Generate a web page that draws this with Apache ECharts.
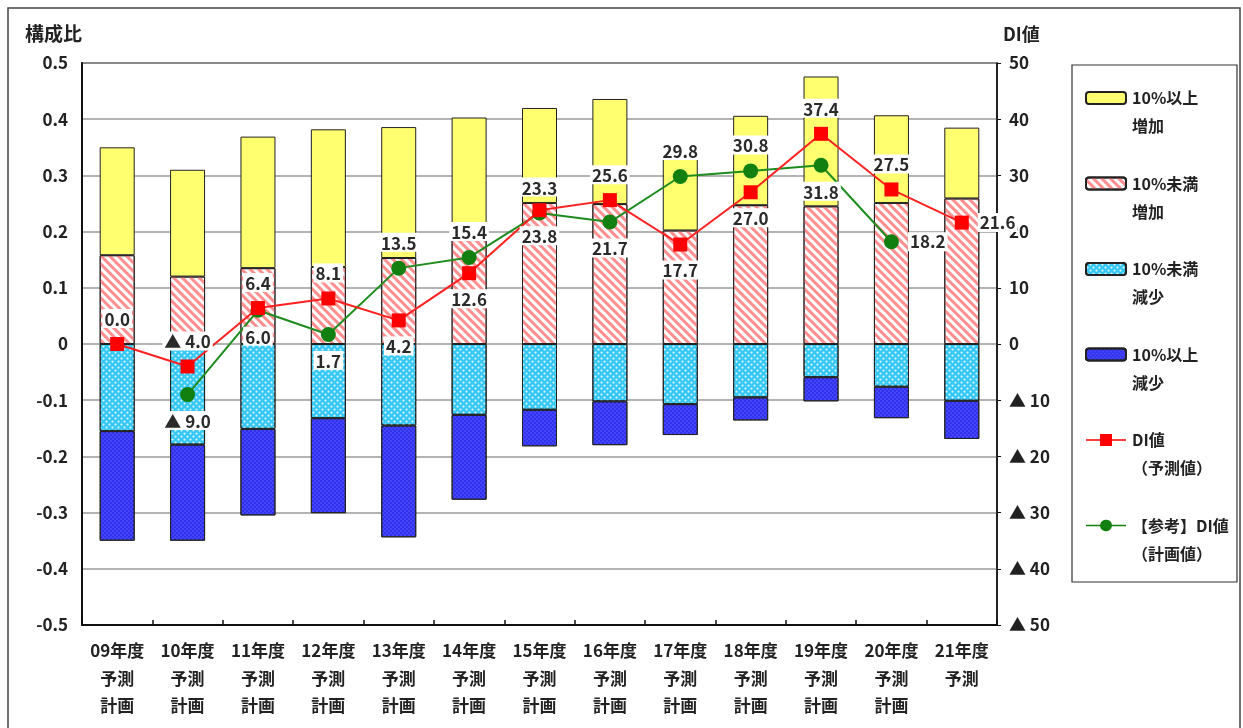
<!DOCTYPE html>
<html>
<head>
<meta charset="utf-8">
<script src="https://cdn.jsdelivr.net/npm/echarts@6.0.0/dist/echarts.min.js"></script>
<style>
html,body{margin:0;padding:0;background:#fff;}
#chart{width:1243px;height:728px;}
</style>
</head>
<body>
<div id="chart"></div>
<script>
// ---- data ----
var categories = ['09年度\n予測\n計画','10年度\n予測\n計画','11年度\n予測\n計画','12年度\n予測\n計画','13年度\n予測\n計画','14年度\n予測\n計画','15年度\n予測\n計画','16年度\n予測\n計画','17年度\n予測\n計画','18年度\n予測\n計画','19年度\n予測\n計画','20年度\n予測\n計画','21年度\n予測'];
var incSmall = [0.158,0.120,0.135,0.137,0.153,0.185,0.251,0.249,0.202,0.247,0.245,0.251,0.259];   // 10%未満増加
var incLarge = [0.192,0.190,0.234,0.245,0.233,0.218,0.169,0.187,0.137,0.159,0.231,0.156,0.126];   // 10%以上増加
var decSmall = [-0.155,-0.179,-0.151,-0.132,-0.145,-0.126,-0.117,-0.102,-0.107,-0.095,-0.059,-0.076,-0.101]; // 10%未満減少
var decLarge = [-0.195,-0.171,-0.154,-0.169,-0.199,-0.151,-0.065,-0.078,-0.055,-0.041,-0.043,-0.056,-0.068]; // 10%以上減少
var diForecast = [0.0,-4.0,6.4,8.1,4.2,12.6,23.8,25.6,17.7,27.0,37.4,27.5,21.6];
var diPlan = [null,-9.0,6.0,1.7,13.5,15.4,23.3,21.7,29.8,30.8,31.8,18.2,null];
var leftTicks = {min:-0.5, max:0.5, interval:0.1};
var rightTicks = {min:-50, max:50, interval:10};

// ---- label placement (style) ----
var redPos = ['top','top','top','top','bottom','bottom','bottom','top','bottom','bottom','top','top','right'];
var greenPos = ['top','bottom','bottom','bottom','top','top','top','bottom','top','top','bottom','right','top'];

var FONT = '"Noto Sans CJK JP", "Noto Sans", sans-serif';
var TXT = '#222';

function diFmt(v){ return v < 0 ? '▲ ' + (-v).toFixed(1) : v.toFixed(1); }

var labelBase = {
  show: true, fontFamily: FONT, fontSize: 17, fontWeight: 'bold', color: '#2a2a2a',
  backgroundColor: '#fff', padding: [2,2,0,2], distance: 9,
  formatter: function(p){ return diFmt(p.value); }
};

function lineData(arr, pos){
  return arr.map(function(v,i){
    if (v === null) return null;
    return {value: v, label: {position: pos[i]}};
  });
}

var ICON_LINE_SQ = 'path://M0,5.2H14V0H26V5.2H40V6.8H26V12H14V6.8H0Z';
var ICON_LINE_CI = 'path://M0,5.2H14.08A6,6 0 0 1 25.92,5.2H40V6.8H25.92A6,6 0 0 1 14.08,6.8H0Z';

var chart = echarts.init(document.getElementById('chart'));
var barBorder = {borderColor:'#222', borderWidth:1};

var option = {
  animation: false,
  backgroundColor: '#fff',
  textStyle: {fontFamily: FONT},
  grid: {left:82, right:246, top:63, bottom:103, show:true, borderColor:'#222', borderWidth:1.5},
  legend: {
    orient:'vertical', left:1085, top:56, padding:0,
    itemWidth:40, itemHeight:12, itemGap:1.5,
    formatter: function(name){ return ' \n' + name; },
    textStyle:{fontFamily:FONT, fontSize:16, fontWeight:'bold', color:TXT, lineHeight:28, padding:[0,0,0,1]},
    data:[
      {name:'10%以上\n増加', icon:'roundRect'},
      {name:'10%未満\n増加', icon:'roundRect'},
      {name:'10%未満\n減少', icon:'roundRect'},
      {name:'10%以上\n減少', icon:'roundRect'},
      {name:'DI値\n（予測値）', icon: ICON_LINE_SQ},
      {name:'【参考】DI値\n（計画値）', icon: ICON_LINE_CI}
    ]
  },
  graphic: [
    {type:'rect', shape:{x:8, y:8, width:1232, height:740}, style:{fill:'none', stroke:'#444', lineWidth:1.5}, silent:true},
    {type:'rect', shape:{x:1072, y:65, width:165, height:517}, style:{fill:'none', stroke:'#333', lineWidth:1.2}, silent:true}
  ],
  xAxis: {
    type:'category', data: categories,
    axisLine:{onZero:false, lineStyle:{color:'#111', width:2}},
    axisTick:{show:true, inside:true, length:5, lineStyle:{color:'#111', width:1.5}},
    axisLabel:{interval:0, fontFamily:FONT, fontSize:17, fontWeight:'bold', color:TXT, lineHeight:27.5, margin:12}
  },
  yAxis: [
    {
      type:'value', min:leftTicks.min, max:leftTicks.max, interval:leftTicks.interval,
      name:'構成比', nameLocation:'end', nameGap:20,
      nameTextStyle:{fontFamily:FONT, fontSize:19, fontWeight:'bold', color:TXT, align:'right', padding:[0,0,0,0]},
      axisLine:{show:true, lineStyle:{color:'#111', width:2}},
      axisTick:{show:false},
      axisLabel:{fontFamily:FONT, fontSize:17, fontWeight:'bold', color:TXT, margin:14,
        formatter:function(v){ var r = Math.round(v*10)/10; return r === 0 ? '0' : r.toFixed(1); }},
      splitLine:{show:true, lineStyle:{color:'#9a9a9a', width:1.5}}
    },
    {
      type:'value', min:rightTicks.min, max:rightTicks.max, interval:rightTicks.interval,
      name:'DI値', nameLocation:'end', nameGap:20,
      nameTextStyle:{fontFamily:FONT, fontSize:18, fontWeight:'bold', color:TXT, align:'left', padding:[0,0,0,6]},
      axisLine:{show:true, lineStyle:{color:'#111', width:1.5}},
      axisTick:{show:true, length:4, lineStyle:{color:'#111'}},
      axisLabel:{fontFamily:FONT, fontSize:17, fontWeight:'bold', color:TXT, margin:12,
        formatter:function(v){ return v < 0 ? '▲ ' + (-v) : String(v); }},
      splitLine:{show:false}
    }
  ],
  series: [
    {
      name:'10%未満\n増加', type:'bar', stack:'ratio', barWidth:35, data: incSmall,
      itemStyle: Object.assign({color:'#ffffff',
        decal:{symbol:'rect', color:'#ff8f8f', dashArrayX:[1,0], dashArrayY:[2.5,2.5], rotation:Math.PI/4}}, barBorder)
    },
    {
      name:'10%以上\n増加', type:'bar', stack:'ratio', barWidth:35, data: incLarge,
      itemStyle: Object.assign({color:'#ffff70'}, barBorder)
    },
    {
      name:'10%未満\n減少', type:'bar', stack:'ratio', barWidth:35, data: decSmall,
      itemStyle: Object.assign({color:'#35c8f5',
        decal:{symbol:'circle', symbolSize:0.75, color:'rgba(255,255,255,0.8)', dashArrayX:[[3,3],[0,3,3,0]], dashArrayY:[3,0]}}, barBorder)
    },
    {
      name:'10%以上\n減少', type:'bar', stack:'ratio', barWidth:35, data: decLarge,
      itemStyle: Object.assign({color:'#3030f0',
        decal:{symbol:'circle', symbolSize:0.7, color:'rgba(140,140,255,0.7)', dashArrayX:[[2,2],[0,2,2,0]], dashArrayY:[2,0]}}, barBorder)
    },
    {
      name:'DI値\n（予測値）', type:'line', yAxisIndex:1, data: lineData(diForecast, redPos),
      symbol:'rect', symbolSize:14, z:5,
      lineStyle:{color:'#ff2020', width:2}, itemStyle:{color:'#ff0000'},
      label: labelBase
    },
    {
      name:'【参考】DI値\n（計画値）', type:'line', yAxisIndex:1, data: lineData(diPlan, greenPos),
      symbol:'circle', symbolSize:15, z:4,
      lineStyle:{color:'#1e8c1e', width:2}, itemStyle:{color:'#118011'},
      label: labelBase
    }
  ]
};
chart.setOption(option);
</script>
</body>
</html>
